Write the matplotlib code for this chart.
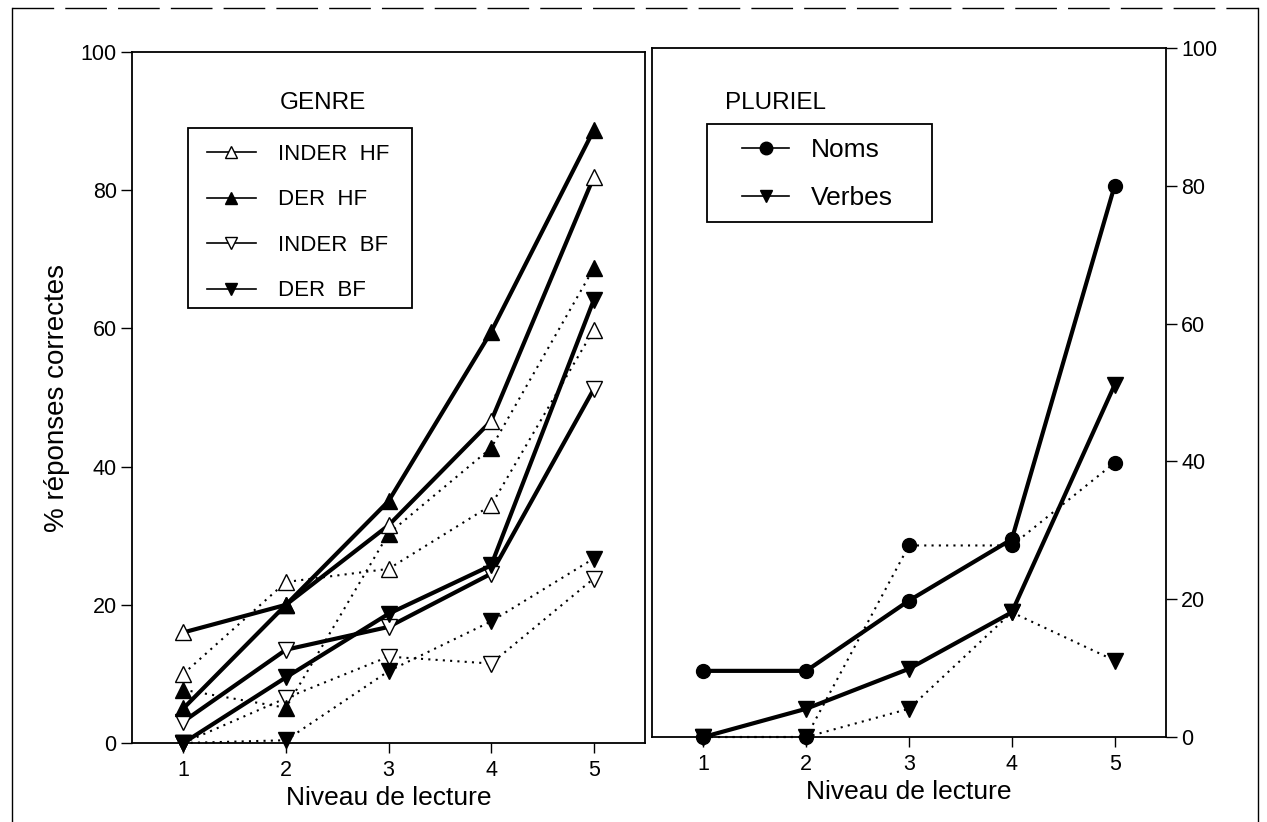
import matplotlib
matplotlib.use('Agg')
import matplotlib.pyplot as plt
from matplotlib.lines import Line2D
from matplotlib.patches import Rectangle

plt.rcParams['font.family'] = ['Liberation Sans', 'DejaVu Sans']

niveaux = [1, 2, 3, 4, 5]

# GENRE : trait plein
inder_hf = [16, 20, 31.5, 46.6, 81.9]
der_hf = [5, 20, 35, 59.5, 88.7]
inder_bf = [3.1, 13.5, 16.8, 24.5, 51.2]
der_bf = [0, 9.5, 18.7, 25.7, 64.1]
# GENRE : pointilles
inder_hf_pt = [10, 23.3, 25.2, 34.4, 59.8]
der_hf_pt = [7.7, 5.1, 30.3, 42.7, 68.7]
inder_bf_pt = [0, 6.5, 12.5, 11.5, 23.8]
der_bf_pt = [0, 0.4, 10.4, 17.6, 26.7]

# PLURIEL
noms = [9.6, 9.6, 19.8, 28.7, 80]
verbes = [0, 4.1, 9.9, 18.1, 51.1]
noms_pt = [0, 0, 27.8, 27.8, 39.8]
verbes_pt = [0, 0, 4.1, 18.1, 11.1]

genre_labels = ['INDER  HF', 'DER  HF', 'INDER  BF', 'DER  BF']
pluriel_labels = ['Noms', 'Verbes']

fig = plt.figure(figsize=(12.67, 8.22), dpi=100)
ax1 = fig.add_axes([0.1042, 0.0961, 0.4049, 0.8406])
ax2 = fig.add_axes([0.5146, 0.1034, 0.4057, 0.8382])

solid = dict(color='black', lw=3, clip_on=False)
dots = dict(color='black', lw=1.5, ls=(0, (1, 2.5)), clip_on=False)
# styles des marqueurs : (forme, remplissage)
mk = {'inder_hf': ('^', 'white'), 'der_hf': ('^', 'black'),
      'inder_bf': ('v', 'white'), 'der_bf': ('v', 'black')}

# pointilles d'abord, puis trait plein
for vals, key in [(inder_hf_pt, 'inder_hf'), (inder_bf_pt, 'inder_bf'),
                  (der_hf_pt, 'der_hf'), (der_bf_pt, 'der_bf')]:
    m, fc = mk[key]
    ax1.plot(niveaux, vals, marker=m, ms=11, mfc=fc, mec='black', mew=1, zorder=3, **dots)
for vals, key in [(inder_hf, 'inder_hf'), (inder_bf, 'inder_bf'),
                  (der_hf, 'der_hf'), (der_bf, 'der_bf')]:
    m, fc = mk[key]
    ax1.plot(niveaux, vals, marker=m, ms=11, mfc=fc, mec='black', mew=1, zorder=4, **solid)

ax2.plot(niveaux, noms_pt, marker='o', ms=10, mfc='black', mec='black', zorder=3, **dots)
ax2.plot(niveaux, verbes_pt, marker='v', ms=11, mfc='black', mec='black', zorder=3, **dots)
ax2.plot(niveaux, noms, marker='o', ms=10, mfc='black', mec='black', zorder=4, **solid)
ax2.plot(niveaux, verbes, marker='v', ms=11, mfc='black', mec='black', zorder=4, **solid)

for ax in (ax1, ax2):
    ax.set_xlim(0.5, 5.5)
    ax.set_ylim(0, 100)
    ax.set_xticks(niveaux)
    ax.set_yticks([0, 20, 40, 60, 80, 100])
    ax.tick_params(axis='x', direction='out', length=7, width=1, labelsize=15.5, pad=5)
    ax.tick_params(axis='y', direction='out', length=8, width=1, labelsize=15.5, pad=3)
    for s in ax.spines.values():
        s.set_linewidth(1.3)
    ax.set_xlabel('Niveau de lecture', fontsize=19, labelpad=4)

ax2.yaxis.tick_right()
ax1.set_ylabel('% réponses correctes', fontsize=20, labelpad=8)

ax1.text(0.372, 0.926, 'GENRE', transform=ax1.transAxes, ha='center', va='center', fontsize=17.5)
ax2.text(0.241, 0.92, 'PLURIEL', transform=ax2.transAxes, ha='center', va='center', fontsize=17.5)

# legendes (traits fins), cadres dessines a part
h1 = []
for key in ['inder_hf', 'der_hf', 'inder_bf', 'der_bf']:
    m, fc = mk[key]
    h1.append(Line2D([], [], color='black', lw=1.2, marker=m, ms=9, mfc=fc, mec='black'))
ax1.legend(h1, genre_labels, loc='center left', bbox_to_anchor=(0.146, 0.753),
           fontsize=16, frameon=False, handlelength=2.2, handletextpad=1.0,
           labelspacing=1.1, borderpad=0, borderaxespad=0)
ax1.add_patch(Rectangle((0.109, 0.630), 0.437, 0.260, transform=ax1.transAxes,
                        fill=False, ec='black', lw=1.3, zorder=5))

h2 = [Line2D([], [], color='black', lw=1.2, marker='o', ms=9, mfc='black'),
      Line2D([], [], color='black', lw=1.2, marker='v', ms=9, mfc='black')]
ax2.legend(h2, pluriel_labels, loc='center left', bbox_to_anchor=(0.175, 0.817),
           fontsize=19, frameon=False, handlelength=1.8, handletextpad=0.8,
           labelspacing=0.92, borderpad=0, borderaxespad=0)
ax2.add_patch(Rectangle((0.107, 0.747), 0.438, 0.143, transform=ax2.transAxes,
                        fill=False, ec='black', lw=1.3, zorder=5))

# cadre exterieur
fig.add_artist(Line2D([12 / 1267, 12 / 1267], [0, 1 - 8 / 822], color='black', lw=1))
fig.add_artist(Line2D([1258 / 1267, 1258 / 1267], [0, 1 - 8 / 822], color='black', lw=1))
fig.add_artist(Line2D([12 / 1267, 1258 / 1267], [1 - 8 / 822, 1 - 8 / 822], color='black', lw=1,
                      ls=(0, (30, 8))))

fig.savefig('out.png', dpi=100)
